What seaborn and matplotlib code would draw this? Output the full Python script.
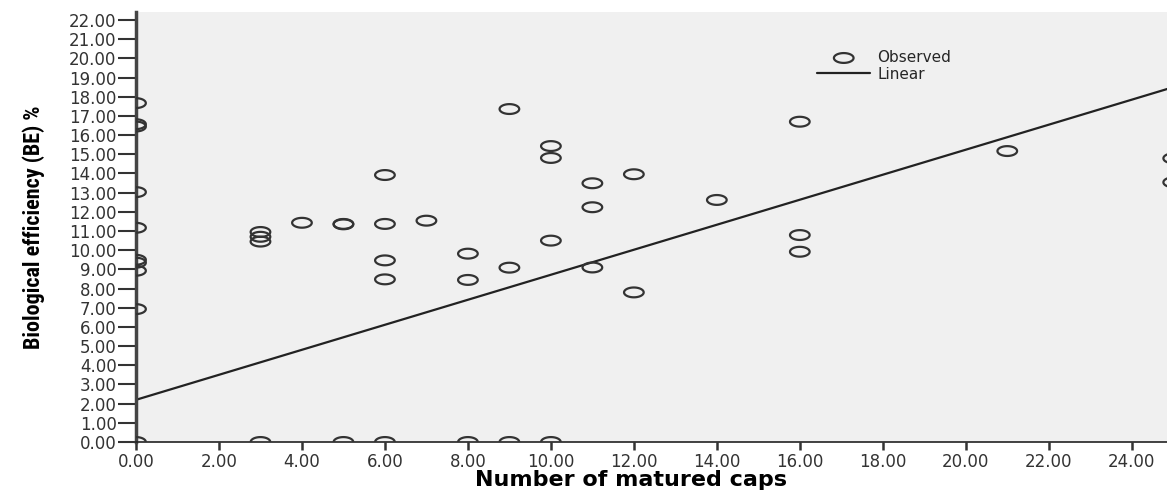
import numpy as np
import matplotlib
matplotlib.use("Agg")
import matplotlib.pyplot as plt
import seaborn as sns
from matplotlib.path import Path
from matplotlib.ticker import FormatStrFormatter
from matplotlib import font_manager

# ---- data ----
caps = [0, 0, 0, 0, 0, 0, 0, 0, 0, 0,
        3, 3, 3, 3,
        4,
        5, 5, 5,
        6, 6, 6, 6, 6,
        7,
        8, 8, 8,
        9, 9, 9,
        10, 10, 10, 10,
        11, 11, 11,
        12, 12,
        14,
        16, 16, 16,
        21,
        25, 25]
be = [17.67, 16.57, 16.45, 13.03, 11.17, 9.50, 9.35, 8.93, 6.93, 0.00,
      10.95, 10.70, 10.45, 0.00,
      11.43,
      11.37, 11.35, 0.00,
      13.92, 11.37, 9.47, 8.48, 0.00,
      11.54,
      9.82, 8.45, 0.00,
      17.36, 9.09, 0.00,
      15.43, 14.81, 10.50, 0.00,
      13.49, 12.24, 9.10,
      13.96, 7.80,
      12.62,
      16.70, 10.79, 9.92,
      15.17,
      14.79, 13.54]
fit_intercept = 2.20
fit_slope = 0.652
fit_x = np.array([0.0, 25.0])

x_ticks = np.arange(0, 25, 2)
y_ticks = np.arange(0, 23, 1)

# ---- style ----
sns.set_style("white")
plt.rcParams['font.family'] = ['DejaVu Sans']

fig = plt.figure(figsize=(11.67, 4.97), dpi=100)
ax = fig.add_axes([136 / 1167, 55 / 497, 1 - 136 / 1167, 430 / 497])
ax.set_facecolor("#F0F0F0")

# ellipse-shaped open marker (the reference is horizontally stretched)
t = np.linspace(0, 2 * np.pi, 64)
ellipse = Path(np.column_stack([np.cos(t), 0.5 * np.sin(t)]), closed=True)

sns.scatterplot(x=caps, y=be, marker=ellipse, s=200, facecolor="none",
                edgecolor="#333333", linewidth=1.6, label="Observed", ax=ax,
                zorder=3)
sns.lineplot(x=fit_x, y=fit_intercept + fit_slope * fit_x, color="#222222",
             linewidth=1.6, label="Linear", ax=ax, zorder=2)

ax.set_xlim(0, 24.85)
ax.set_ylim(0, 22.42)
ax.set_xticks(x_ticks)
ax.set_yticks(y_ticks)
ax.xaxis.set_major_formatter(FormatStrFormatter("%.2f"))
ax.yaxis.set_major_formatter(FormatStrFormatter("%.2f"))

ax.tick_params(axis="y", direction="out", length=13, width=1.5, color="#333333",
               pad=1, labelsize=12, labelcolor="#333333", left=True)
ax.tick_params(axis="x", direction="out", length=6, width=1.8, color="#333333",
               pad=2, labelsize=12, labelcolor="#333333", bottom=True)

for side in ("top", "right"):
    ax.spines[side].set_visible(False)
ax.spines["left"].set_linewidth(2.5)
ax.spines["left"].set_color("#444444")
ax.spines["bottom"].set_linewidth(1.2)
ax.spines["bottom"].set_color("#222222")

ax.set_xlabel("Number of matured caps", fontsize=16, fontweight="bold",
              color="black")
ax.xaxis.set_label_coords(0.48, -0.064)

# narrow bold font for the y label if one is installed
names = {f.name for f in font_manager.fontManager.ttflist}
ylab_family = [n for n in ["Roboto Condensed", "Liberation Sans Narrow",
                           "Liberation Sans", "DejaVu Sans"] if n in names]
ylab = ax.set_ylabel("Biological efficiency (BE) %", fontsize=14,
                     fontweight="bold", family=ylab_family, color="black")
ax.yaxis.set_label_coords(-0.088, 0.5)
fig.canvas.draw()
h = ylab.get_window_extent().height
ylab.set_fontsize(14 * 245 / h)

ax.legend(loc="upper left", bbox_to_anchor=(817 / 1167, 1 - 50 / 497),
          bbox_transform=fig.transFigure, frameon=False, fontsize=11,
          handlelength=3.5, handletextpad=0.45, labelspacing=0.1,
          borderpad=0, borderaxespad=0)

fig.savefig("out.png", dpi=100, facecolor="white")
